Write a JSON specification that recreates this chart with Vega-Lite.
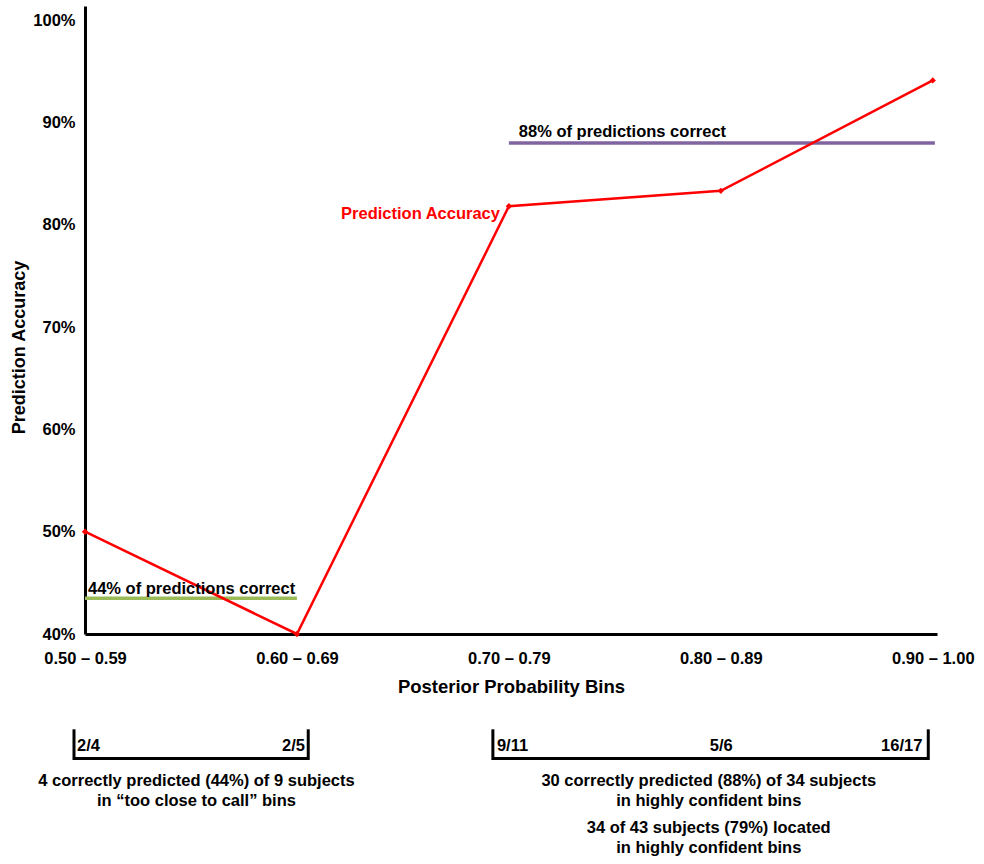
{
  "$schema": "https://vega.github.io/schema/vega-lite/v6.json",
  "background": "white",
  "padding": {"left": 10, "top": 6, "right": 0, "bottom": 0},
  "config": {
    "view": {"stroke": null},
    "font": "Liberation Sans",
    "concat": {"spacing": 24}
  },
  "datasets": {
    "accuracy": [
      {"x": 0, "y": 50.0, "bin": "0.50 – 0.59"},
      {"x": 1, "y": 40.0, "bin": "0.60 – 0.69"},
      {"x": 2, "y": 81.82, "bin": "0.70 – 0.79"},
      {"x": 3, "y": 83.33, "bin": "0.80 – 0.89"},
      {"x": 4, "y": 94.12, "bin": "0.90 – 1.00"}
    ],
    "reference": [
      {"name": "too close to call", "x": 0, "x2": 1, "y": 43.5},
      {"name": "highly confident", "x": 2, "x2": 4.01, "y": 88}
    ],
    "notes": [
      {"x": 0.014, "y": 44.4, "text": "44% of predictions correct"},
      {"x": 2.047, "y": 89.06, "text": "88% of predictions correct"}
    ],
    "series_label": [
      {"x": 1.958, "y": 81.04, "text": "Prediction Accuracy"}
    ],
    "brackets": [
      {"x": -0.0519, "x2": -0.0519, "y": 0.93, "y2": 4.0},
      {"x": 1.0533, "x2": 1.0533, "y": 0.93, "y2": 4.0},
      {"x": -0.0519, "x2": 1.0533, "y": 3.85, "y2": 3.85},
      {"x": 1.9245, "x2": 1.9245, "y": 0.93, "y2": 4.0},
      {"x": 3.9788, "x2": 3.9788, "y": 0.93, "y2": 4.0},
      {"x": 1.9245, "x2": 3.9788, "y": 3.85, "y2": 3.85}
    ],
    "fractions_left": [
      {"x": -0.0377, "y": 2.55, "text": "2/4"},
      {"x": 1.9434, "y": 2.55, "text": "9/11"}
    ],
    "fractions_right": [
      {"x": 1.0377, "y": 2.55, "text": "2/5"},
      {"x": 3.951, "y": 2.55, "text": "16/17"}
    ],
    "fractions_center": [
      {"x": 3.002, "y": 2.55, "text": "5/6"}
    ],
    "captions": [
      {"x": 0.526, "y": 6.05, "text": "4 correctly predicted (44%) of 9 subjects"},
      {"x": 0.526, "y": 8.05, "text": "in “too close to call” bins"},
      {"x": 2.943, "y": 6.05, "text": "30 correctly predicted (88%) of 34 subjects"},
      {"x": 2.943, "y": 8.05, "text": "in highly confident bins"},
      {"x": 2.943, "y": 10.8, "text": "34 of 43 subjects (79%) located"},
      {"x": 2.943, "y": 12.75, "text": "in highly confident bins"}
    ]
  },
  "resolve": {"scale": {"x": "independent", "y": "independent"}},
  "vconcat": [
    {
      "width": 852,
      "height": 628,
      "encoding": {
        "x": {
          "field": "x", "type": "quantitative",
          "scale": {"domain": [0, 4.02], "nice": false, "zero": false},
          "axis": {
            "values": [0, 1, 2, 3, 4],
            "labelExpr": "['0.50 – 0.59','0.60 – 0.69','0.70 – 0.79','0.80 – 0.89','0.90 – 1.00'][datum.value]",
            "title": "Posterior Probability Bins",
            "grid": false, "ticks": false, "tickSize": 0,
            "domainColor": "black", "domainWidth": 3,
            "labelFontSize": 16.5, "labelFontWeight": "bold", "labelColor": "black",
            "labelPadding": 16, "labelFlush": false, "labelOverlap": false, "labelBound": false,
            "titleFontSize": 18.5, "titleFontWeight": "bold", "titleColor": "black",
            "titlePadding": 11
          }
        },
        "y": {
          "field": "y", "type": "quantitative",
          "scale": {"domain": [40, 101.4], "nice": false, "zero": false},
          "axis": {
            "values": [40, 50, 60, 70, 80, 90, 100],
            "labelExpr": "datum.value + '%'",
            "title": "Prediction Accuracy",
            "grid": false, "ticks": false, "tickSize": 0,
            "domainColor": "black", "domainWidth": 3,
            "labelFontSize": 16.5, "labelFontWeight": "bold", "labelColor": "black",
            "labelPadding": 10, "labelFlush": false, "labelOverlap": false,
            "titleFontSize": 18, "titleFontWeight": "bold", "titleColor": "black",
            "titlePadding": 4, "titleY": 341
          }
        }
      },
      "layer": [
        {
          "data": {"name": "reference"},
          "mark": {"type": "rule", "strokeWidth": 3.5},
          "encoding": {
            "x2": {"field": "x2"},
            "color": {
              "field": "name", "type": "nominal", "legend": null,
              "scale": {"domain": ["too close to call", "highly confident"], "range": ["#9BBB59", "#8064A2"]}
            }
          }
        },
        {
          "data": {"name": "accuracy"},
          "mark": {"type": "line", "color": "#FF0000", "strokeWidth": 2.5,
                   "point": {"filled": true, "shape": "diamond", "size": 40, "color": "#FF0000"}},
          "encoding": {}
        },
        {
          "data": {"name": "notes"},
          "mark": {"type": "text", "align": "left", "baseline": "middle", "fontSize": 16.5, "fontWeight": "bold", "color": "black"},
          "encoding": {"text": {"field": "text"}}
        },
        {
          "data": {"name": "series_label"},
          "mark": {"type": "text", "align": "right", "baseline": "middle", "fontSize": 16.5, "fontWeight": "bold", "color": "#FF0000"},
          "encoding": {"text": {"field": "text"}}
        }
      ]
    },
    {
      "width": 852,
      "height": 140,
      "encoding": {
        "x": {"field": "x", "type": "quantitative", "axis": null,
              "scale": {"domain": [0, 4.02], "nice": false, "zero": false}},
        "y": {"field": "y", "type": "quantitative", "axis": null,
              "scale": {"domain": [0, 14], "nice": false, "zero": false, "reverse": true}}
      },
      "layer": [
        {
          "data": {"name": "brackets"},
          "mark": {"type": "rule", "strokeWidth": 3, "color": "black"},
          "encoding": {"x2": {"field": "x2"}, "y2": {"field": "y2"}}
        },
        {
          "data": {"name": "fractions_left"},
          "mark": {"type": "text", "align": "left", "baseline": "middle", "fontSize": 16.5, "fontWeight": "bold", "color": "black"},
          "encoding": {"text": {"field": "text"}}
        },
        {
          "data": {"name": "fractions_right"},
          "mark": {"type": "text", "align": "right", "baseline": "middle", "fontSize": 16.5, "fontWeight": "bold", "color": "black"},
          "encoding": {"text": {"field": "text"}}
        },
        {
          "data": {"name": "fractions_center"},
          "mark": {"type": "text", "align": "center", "baseline": "middle", "fontSize": 16.5, "fontWeight": "bold", "color": "black"},
          "encoding": {"text": {"field": "text"}}
        },
        {
          "data": {"name": "captions"},
          "mark": {"type": "text", "align": "center", "baseline": "middle", "fontSize": 16.5, "fontWeight": "bold", "color": "black"},
          "encoding": {"text": {"field": "text"}}
        }
      ]
    }
  ]
}
